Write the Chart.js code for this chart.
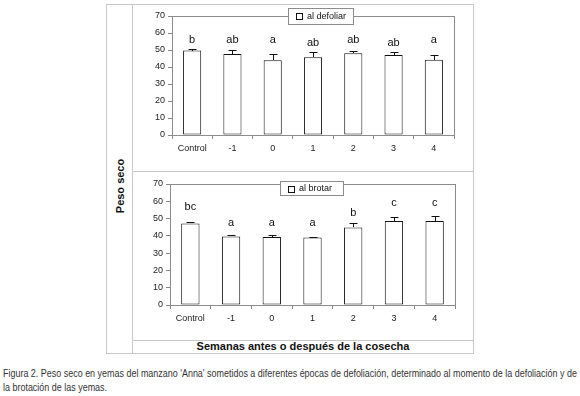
<!DOCTYPE html>
<html>
<head>
<meta charset="utf-8">
<script src="https://cdn.jsdelivr.net/npm/chart.js@4"></script>
<style>
  body { margin: 0; background: #fff; width: 580px; height: 396px; position: relative; overflow: hidden; font-family: "Liberation Sans", Arial, sans-serif; }
  .frame { position: absolute; left: 106px; top: 4px; width: 366px; height: 348px; border: 1px solid #c8c8c8; }
  .vline { position: absolute; left: 132px; top: 4px; width: 1px; height: 349px; background: #c8c8c8; }
  .hline { position: absolute; left: 132px; width: 341px; height: 1px; background: #c8c8c8; }
  canvas { position: absolute; }
  #ytitle { position: absolute; left: 120px; top: 186px; transform: translate(-50%, -50%) rotate(-90deg); font-weight: bold; font-size: 11px; color: #111; white-space: nowrap; }
  #xtitle { position: absolute; left: 133px; width: 340px; top: 340px; height: 13px; line-height: 13px; text-align: center; font-weight: bold; font-size: 11px; color: #111; }
  #caption { position: absolute; left: 3px; top: 366px; font-family: "Liberation Sans", Arial, sans-serif; font-size: 10.5px; line-height: 14px; color: #333; white-space: nowrap; transform-origin: 0 0; }
  #caption span { display: inline-block; }
</style>
</head>
<body>
<div class="frame"></div>
<div class="vline"></div>
<div class="hline" style="top:171px"></div>
<div class="hline" style="top:340px"></div>
<div id="ytitle">Peso seco</div>
<div id="xtitle">Semanas antes o después de la cosecha</div>
<canvas id="chartTop" width="341" height="167" style="left:132px; top:4px"></canvas>
<canvas id="chartBottom" width="341" height="169" style="left:132px; top:171px"></canvas>
<div id="caption"><span id="capLine1">Figura 2. Peso seco en yemas del manzano 'Anna' sometidos a diferentes épocas de defoliación, determinado al momento de la defoliación y de</span><br><span>la brotación de las yemas.</span></div>
<script>
// Data
const categories = ['Control', '-1', '0', '1', '2', '3', '4'];

const defoliarMeans = [49.7, 47.7, 44.0, 45.8, 48.1, 47.1, 44.2];
const defoliarErr = [0.7, 2.4, 3.9, 2.9, 1.4, 1.6, 3.1];
const defoliarLetters = ['b', 'ab', 'a', 'ab', 'ab', 'ab', 'a'];
const defoliarLetterY = [56, 56, 56, 54, 56, 54, 56];

const brotarMeans = [47.2, 39.7, 39.3, 39.1, 44.9, 48.6, 48.6];
const brotarErr = [1.0, 0.6, 1.0, 0.2, 2.3, 2.5, 3.1];
const brotarLetters = ['bc', 'a', 'a', 'a', 'b', 'c', 'c'];
const brotarLetterY = [56.5, 47.6, 47.6, 47.6, 53.4, 59, 59];

const yMin = 0;
const yMax = 70;
const yStep = 10;

const FONT = '"Liberation Sans", Arial, sans-serif';

// the caption is set in a narrow face in the original; squeeze it to the page width
const capLine1 = document.getElementById('capLine1');
document.getElementById('caption').style.transform = 'scaleX(' + (574 / capLine1.offsetWidth) + ')';

// plot frame, error bars, significance letters and the legend box
const panelExtras = {
    id: 'panelExtras',
    beforeDatasetsDraw(chart) {
        const a = chart.chartArea;
        const ctx = chart.ctx;
        ctx.save();
        ctx.strokeStyle = '#8c8c8c';
        ctx.lineWidth = 1;
        ctx.strokeRect(Math.round(a.left) + 0.5, Math.round(a.top) + 0.5, Math.round(a.right - a.left), Math.round(a.bottom - a.top));
        ctx.restore();
    },
    afterDatasetsDraw(chart, args, opts) {
        const ctx = chart.ctx;
        const yScale = chart.scales.y;
        const meta = chart.getDatasetMeta(0);
        ctx.save();
        ctx.strokeStyle = '#111';
        ctx.lineWidth = 1;
        meta.data.forEach((bar, i) => {
            const x = Math.round(bar.x) + 0.5;
            const top = Math.round(yScale.getPixelForValue(opts.means[i] + opts.errors[i])) + 0.5;
            ctx.beginPath();
            ctx.moveTo(x, Math.round(bar.y));
            ctx.lineTo(x, top);
            ctx.moveTo(x - 4, top);
            ctx.lineTo(x + 4, top);
            ctx.stroke();
        });
        // letters
        ctx.fillStyle = '#111';
        ctx.font = '11px ' + FONT;
        ctx.textAlign = 'center';
        ctx.textBaseline = 'middle';
        meta.data.forEach((bar, i) => {
            ctx.fillText(opts.letters[i], bar.x, yScale.getPixelForValue(opts.letterY[i]));
        });
        // legend box
        const lg = opts.legend;
        ctx.fillStyle = '#fff';
        ctx.fillRect(lg.x, lg.y, lg.w, lg.h);
        ctx.strokeStyle = '#8c8c8c';
        ctx.strokeRect(lg.x + 0.5, lg.y + 0.5, lg.w, lg.h);
        ctx.strokeStyle = '#111';
        ctx.strokeRect(lg.x + 8.5, lg.y + 5.5, 6, 6);
        ctx.fillStyle = '#111';
        ctx.font = '9px ' + FONT;
        ctx.textAlign = 'left';
        ctx.fillText(chart.data.datasets[0].label, lg.x + 19, lg.y + lg.h / 2 + 1);
        ctx.restore();
    }
};

function makePanel(canvasId, label, means, errors, letters, letterY, layout) {
    const ctx = document.getElementById(canvasId).getContext('2d');
    return new Chart(ctx, {
        type: 'bar',
        data: {
            labels: categories,
            datasets: [{
                label: label,
                data: means,
                backgroundColor: '#ffffff',
                borderColor: '#111111',
                borderWidth: 1,
                borderSkipped: false,
                barPercentage: 0.45,
                categoryPercentage: 1.0
            }]
        },
        options: {
            responsive: false,
            animation: false,
            layout: {
                padding: { top: layout.top, right: layout.right, left: 0, bottom: 0 }
            },
            plugins: {
                legend: { display: false },
                tooltip: { enabled: false },
                panelExtras: {
                    means: means,
                    errors: errors,
                    letters: letters,
                    letterY: letterY,
                    legend: layout.legend
                }
            },
            scales: {
                x: {
                    afterFit: (scale) => { scale.height = layout.xHeight; },
                    grid: {
                        display: true,
                        drawOnChartArea: false,
                        drawTicks: true,
                        tickLength: 4,
                        color: '#888'
                    },
                    border: { color: '#444' },
                    ticks: {
                        color: '#222',
                        font: { family: FONT, size: 9 },
                        padding: 4,
                        maxRotation: 0
                    }
                },
                y: {
                    min: yMin,
                    max: yMax,
                    afterFit: (scale) => { scale.width = layout.yWidth; },
                    grid: {
                        display: true,
                        drawOnChartArea: false,
                        drawTicks: true,
                        tickLength: 4,
                        color: '#888'
                    },
                    border: { color: '#444' },
                    ticks: {
                        stepSize: yStep,
                        color: '#222',
                        font: { family: FONT, size: 9 },
                        padding: 3
                    }
                }
            }
        },
        plugins: [panelExtras]
    });
}

makePanel('chartTop', 'al defoliar', defoliarMeans, defoliarErr, defoliarLetters, defoliarLetterY, {
    top: 12, right: 19, xHeight: 36, yWidth: 40,
    legend: { x: 156, y: 4, w: 65, h: 16 }
});

makePanel('chartBottom', 'al brotar', brotarMeans, brotarErr, brotarLetters, brotarLetterY, {
    top: 13, right: 18, xHeight: 35, yWidth: 38,
    legend: { x: 148, y: 10, w: 63, h: 14 }
});
</script>
</body>
</html>
